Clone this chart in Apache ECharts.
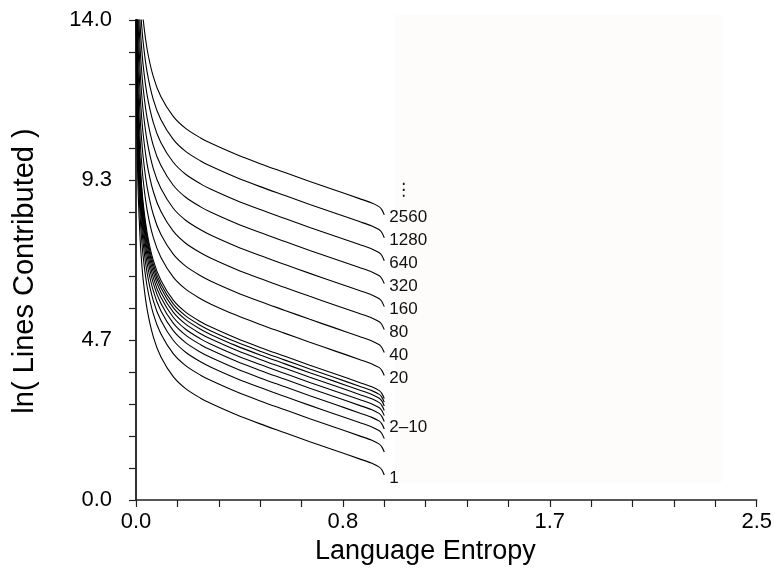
<!DOCTYPE html>
<html>
<head>
<meta charset="utf-8">
<script src="https://cdn.jsdelivr.net/npm/echarts@6/dist/echarts.min.js"></script>
<style>
html,body{margin:0;padding:0;background:#fff;}
#chart{width:775px;height:576px;}
</style>
</head>
<body>
<div id="chart"></div>
<script>
// Language entropy sample points (x)
var entropy = [0.001,0.002,0.004,0.007,0.01,0.015,0.02,0.029,0.045,0.07,0.1,0.15,0.2,0.26,0.3,0.4,0.5,0.6,0.7,0.8,0.9,0.95,0.98,0.99,1.0];

// ln(lines contributed) per curve
var lines1    = [13.2,11.85,10.5,9.4,8.7,7.85,7.2,6.42,5.55,4.75,4.18,3.6,3.25,2.97,2.82,2.5,2.22,1.96,1.7,1.45,1.2,1.07,0.96,0.88,0.73];
var lines2    = [13.87,12.52,11.17,10.07,9.37,8.52,7.87,7.09,6.22,5.42,4.85,4.27,3.92,3.64,3.49,3.17,2.89,2.63,2.37,2.12,1.87,1.74,1.63,1.55,1.40];
var lines3    = [14.26,12.91,11.56,10.46,9.76,8.91,8.26,7.48,6.61,5.81,5.24,4.66,4.31,4.03,3.88,3.56,3.28,3.02,2.76,2.51,2.26,2.13,2.02,1.94,1.79];
var lines4    = [14.54,13.19,11.84,10.74,10.04,9.19,8.54,7.76,6.89,6.09,5.52,4.94,4.59,4.31,4.16,3.84,3.56,3.30,3.04,2.79,2.54,2.41,2.30,2.22,2.07];
var lines5    = [14.76,13.41,12.06,10.96,10.26,9.41,8.76,7.98,7.11,6.31,5.74,5.16,4.81,4.53,4.38,4.06,3.78,3.52,3.26,3.01,2.76,2.63,2.52,2.44,2.29];
var lines6    = [14.93,13.58,12.23,11.13,10.43,9.58,8.93,8.15,7.28,6.48,5.91,5.33,4.98,4.70,4.55,4.23,3.95,3.69,3.43,3.18,2.93,2.80,2.69,2.61,2.46];
var lines7    = [15.08,13.73,12.38,11.28,10.58,9.73,9.08,8.30,7.43,6.63,6.06,5.48,5.13,4.85,4.70,4.38,4.10,3.84,3.58,3.33,3.08,2.95,2.84,2.76,2.61];
var lines8    = [15.21,13.86,12.51,11.41,10.71,9.86,9.21,8.43,7.56,6.76,6.19,5.61,5.26,4.98,4.83,4.51,4.23,3.97,3.71,3.46,3.21,3.08,2.97,2.89,2.74];
var lines9    = [15.32,13.97,12.62,11.52,10.82,9.97,9.32,8.54,7.67,6.87,6.30,5.72,5.37,5.09,4.94,4.62,4.34,4.08,3.82,3.57,3.32,3.19,3.08,3.00,2.85];
var lines10   = [15.43,14.08,12.73,11.63,10.93,10.08,9.43,8.65,7.78,6.98,6.41,5.83,5.48,5.20,5.05,4.73,4.45,4.19,3.93,3.68,3.43,3.30,3.19,3.11,2.96];
var lines20   = [16.10,14.75,13.40,12.30,11.60,10.75,10.10,9.32,8.45,7.65,7.08,6.50,6.15,5.87,5.72,5.40,5.12,4.86,4.60,4.35,4.10,3.97,3.86,3.78,3.63];
var lines40   = [16.77,15.42,14.07,12.97,12.27,11.42,10.77,9.99,9.12,8.32,7.75,7.17,6.82,6.54,6.39,6.07,5.79,5.53,5.27,5.02,4.77,4.64,4.53,4.45,4.30];
var lines80   = [17.44,16.09,14.74,13.64,12.94,12.09,11.44,10.66,9.79,8.99,8.42,7.84,7.49,7.21,7.06,6.74,6.46,6.20,5.94,5.69,5.44,5.31,5.20,5.12,4.97];
var lines160  = [18.11,16.76,15.41,14.31,13.61,12.76,12.11,11.33,10.46,9.66,9.09,8.51,8.16,7.88,7.73,7.41,7.13,6.87,6.61,6.36,6.11,5.98,5.87,5.79,5.64];
var lines320  = [18.78,17.43,16.08,14.98,14.28,13.43,12.78,12.00,11.13,10.33,9.76,9.18,8.83,8.55,8.40,8.08,7.80,7.54,7.28,7.03,6.78,6.65,6.54,6.46,6.31];
var lines640  = [19.45,18.10,16.75,15.65,14.95,14.10,13.45,12.67,11.80,11.00,10.43,9.85,9.50,9.22,9.07,8.75,8.47,8.21,7.95,7.70,7.45,7.32,7.21,7.13,6.98];
var lines1280 = [20.12,18.77,17.42,16.32,15.62,14.77,14.12,13.34,12.47,11.67,11.10,10.52,10.17,9.89,9.74,9.42,9.14,8.88,8.62,8.37,8.12,7.99,7.88,7.80,7.65];
var lines2560 = [20.79,19.44,18.09,16.99,16.29,15.44,14.79,14.01,13.14,12.34,11.77,11.19,10.84,10.56,10.41,10.09,9.81,9.55,9.29,9.04,8.79,8.66,8.55,8.47,8.32];

var curveNames  = ['1','2','3','4','5','6','7','8','9','10','20','40','80','160','320','640','1280','2560'];
var curveValues = [lines1,lines2,lines3,lines4,lines5,lines6,lines7,lines8,lines9,lines10,lines20,lines40,lines80,lines160,lines320,lines640,lines1280,lines2560];
var curveLabels = ['1','','','','2–10','','','','','','20','40','80','160','320','640','1280','2560'];

var xTickLabels = ['0.0','0.8','1.7','2.5'];
var yTickLabels = ['0.0','4.7','9.3','14.0'];

var FONT = '"Liberation Sans", Arial, Helvetica, sans-serif';

var series = curveValues.map(function (vals, i) {
  var lbl = curveLabels[i];
  return {
    type: 'line',
    name: curveNames[i],
    data: entropy.map(function (x, j) { return [x, vals[j]]; }),
    showSymbol: false,
    smooth: 0.3,
    clip: true,
    lineStyle: { color: '#000', width: 1.1 },
    silent: true,
    endLabel: {
      show: lbl !== '',
      formatter: lbl,
      distance: 5,
      offset: lbl === '2–10' ? [0, 6] : [0, 3],
      fontSize: 17,
      color: '#111',
      fontFamily: FONT
    }
  };
});

var chart = echarts.init(document.getElementById('chart'), null, { renderer: 'canvas' });
chart.setOption({
  animation: false,
  backgroundColor: '#ffffff',
  grid: { left: 136, right: 16, top: 20, bottom: 76, containLabel: false },
  graphic: [
    { type: 'rect', z: -10, silent: true, shape: { x: 395, y: 15, width: 327, height: 467 }, style: { fill: '#fdfcfb' } },
    { type: 'text', z: 10, left: 395, top: 182, style: { text: '⋮', fill: '#111', font: '17px "DejaVu Sans", sans-serif' } }
  ],
  xAxis: {
    type: 'value',
    min: 0, max: 2.5, interval: 2.5 / 3,
    name: 'Language Entropy',
    nameLocation: 'middle',
    nameGap: 38,
    nameTextStyle: { fontSize: 27, color: '#000', fontFamily: FONT, padding: [0, 42, 0, 0] },
    axisLine: { show: true, onZero: false, lineStyle: { color: '#222', width: 1.5 } },
    axisTick: { show: true, length: 7, lineStyle: { color: '#222', width: 1.2 } },
    minorTick: { show: true, splitNumber: 5, length: 7, lineStyle: { color: '#222', width: 1.2 } },
    splitLine: { show: false },
    axisLabel: {
      margin: 11, fontSize: 22, color: '#000', fontFamily: FONT,
      formatter: function (v) { return xTickLabels[Math.round(v / (2.5 / 3))]; }
    }
  },
  yAxis: {
    type: 'value',
    min: 0, max: 14, interval: 14 / 3,
    name: 'ln( Lines Contributed )',
    nameLocation: 'middle',
    nameRotate: 90,
    nameGap: 97,
    nameTextStyle: { fontSize: 29, color: '#000', fontFamily: FONT, padding: [0, 22, 0, 0] },
    axisLine: { show: true, onZero: false, lineStyle: { color: '#333', width: 2 } },
    axisTick: { show: true, length: 7, lineStyle: { color: '#222', width: 1.2 } },
    minorTick: { show: true, splitNumber: 5, length: 7, lineStyle: { color: '#222', width: 1.2 } },
    splitLine: { show: false },
    axisLabel: {
      margin: 24, fontSize: 22, color: '#000', fontFamily: FONT,
      formatter: function (v) { return yTickLabels[Math.round(v / (14 / 3))]; }
    }
  },
  series: series
});
</script>
</body>
</html>
